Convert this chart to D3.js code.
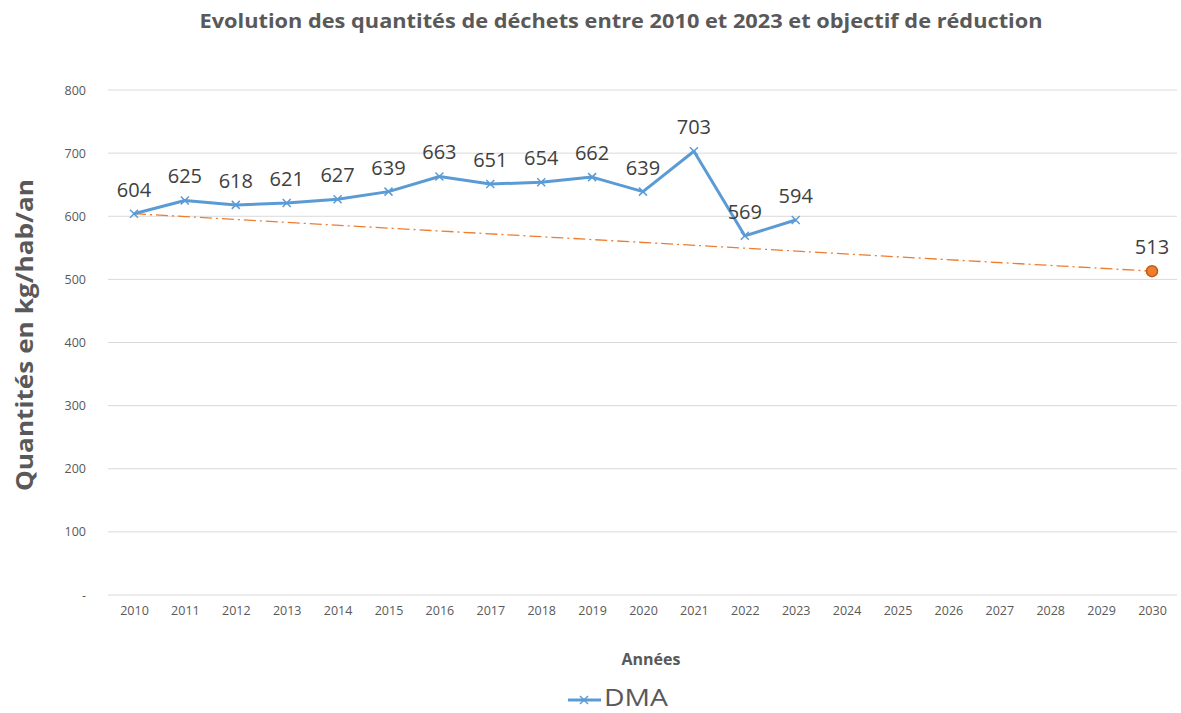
<!DOCTYPE html>
<html><head><meta charset="utf-8">
<script src="https://cdn.jsdelivr.net/npm/d3@7"></script>
<style>body{margin:0;background:#fff;} text{font-family:"Open Sans","Noto Sans",sans-serif;}</style>
</head><body><svg id="c" width="1181" height="713"></svg>
<script>
const years = d3.range(2010, 2031).map(String);
const dmaYears = ["2010","2011","2012","2013","2014","2015","2016","2017","2018","2019","2020","2021","2022","2023"];
const dmaValues = [604,625,618,621,627,639,663,651,654,662,639,703,569,594];
const targetYears = ["2010","2030"];
const targetValues = [604,513];
const yTicks = [0,100,200,300,400,500,600,700,800];

const svg = d3.select("#c");
const x = d3.scalePoint().domain(years).range([134,1152]);
const y = d3.scaleLinear().domain([0,800]).range([595,90]);
const gridL = 108, gridR = 1177;

// grid
svg.append("g").selectAll("line").data(yTicks).join("line")
  .attr("x1",gridL).attr("x2",gridR).attr("y1",d=>y(d)).attr("y2",d=>y(d))
  .attr("stroke","#D9D9D9").attr("stroke-width",1);

// y axis labels
const yAxis = d3.axisLeft(y).tickValues(yTicks).tickSize(0).tickPadding(0)
  .tickFormat(d=>d===0?"-":String(d));
const ya = svg.append("g").attr("transform","translate(86,0)").call(yAxis);
ya.select(".domain").remove();
ya.selectAll("text").attr("fill","#595959").style("font-size","12.5px").style("font-family","'Open Sans',sans-serif");

// x axis labels
const xAxis = d3.axisBottom(x).tickSize(0).tickPadding(0);
const xa = svg.append("g").attr("transform","translate(0,606)").call(xAxis);
xa.select(".domain").remove();
xa.selectAll("text").attr("fill","#595959").style("font-size","12.5px").style("font-family","'Open Sans',sans-serif");

// target line
svg.append("path")
  .datum(targetYears.map((d,i)=>[d,targetValues[i]]))
  .attr("d", d3.line().x(d=>x(d[0])).y(d=>y(d[1])))
  .attr("fill","none").attr("stroke","#ED7D31").attr("stroke-width",1.3)
  .attr("stroke-dasharray","12,4,2,4");
svg.append("circle").attr("cx",x("2030")).attr("cy",y(513)).attr("r",5.5)
  .attr("fill","#ED7D31").attr("stroke","#C55A11").attr("stroke-width",1.5);
svg.append("text").attr("x",x("2030")).attr("y",y(513)-17).attr("text-anchor","middle")
  .attr("fill","#404040").style("font-size","20px").text("513");

// DMA line
const pts = dmaYears.map((d,i)=>[d,dmaValues[i]]);
svg.append("path").datum(pts)
  .attr("d", d3.line().x(d=>x(d[0])).y(d=>y(d[1])))
  .attr("fill","none").attr("stroke","#5B9BD5").attr("stroke-width",3).attr("stroke-linejoin","round");
const m = 4;
svg.append("g").selectAll("path").data(pts).join("path")
  .attr("d", d=>{const cx=x(d[0]), cy=y(d[1]); return `M${cx-m},${cy-m}L${cx+m},${cy+m}M${cx-m},${cy+m}L${cx+m},${cy-m}`;})
  .attr("stroke","#5B9BD5").attr("stroke-width",1.5);
svg.append("g").selectAll("text").data(pts).join("text")
  .attr("x",d=>x(d[0])).attr("y",d=>y(d[1])-17).attr("text-anchor","middle")
  .attr("fill","#404040").style("font-size","20px").text(d=>d[1]);

// title
svg.append("text").attr("x",621).attr("y",28).attr("text-anchor","middle")
  .attr("fill","#595959").style("font-size","19px").style("font-weight","bold")
  .attr("textLength",843).attr("lengthAdjust","spacingAndGlyphs")
  .text("Evolution des quantités de déchets entre 2010 et 2023 et objectif de réduction");

// y title
svg.append("text").attr("transform","translate(33,335) rotate(-90)").attr("text-anchor","middle")
  .attr("fill","#595959").style("font-size","23px").style("font-weight","bold")
  .attr("textLength",312).attr("lengthAdjust","spacingAndGlyphs")
  .text("Quantités en kg/hab/an");

// x title
svg.append("text").attr("x",651).attr("y",665).attr("text-anchor","middle")
  .attr("fill","#595959").style("font-size","16px").style("font-weight","bold").text("Années");

// legend
svg.append("line").attr("x1",568).attr("x2",601).attr("y1",700).attr("y2",700)
  .attr("stroke","#5B9BD5").attr("stroke-width",3);
svg.append("path").attr("d",`M${584-m},${700-m}L${584+m},${700+m}M${584-m},${700+m}L${584+m},${700-m}`)
  .attr("stroke","#5B9BD5").attr("stroke-width",1.5);
svg.append("text").attr("x",604).attr("y",706).attr("fill","#595959").style("font-size","23px")
  .attr("textLength",64).attr("lengthAdjust","spacingAndGlyphs").text("DMA");
</script></body></html>
